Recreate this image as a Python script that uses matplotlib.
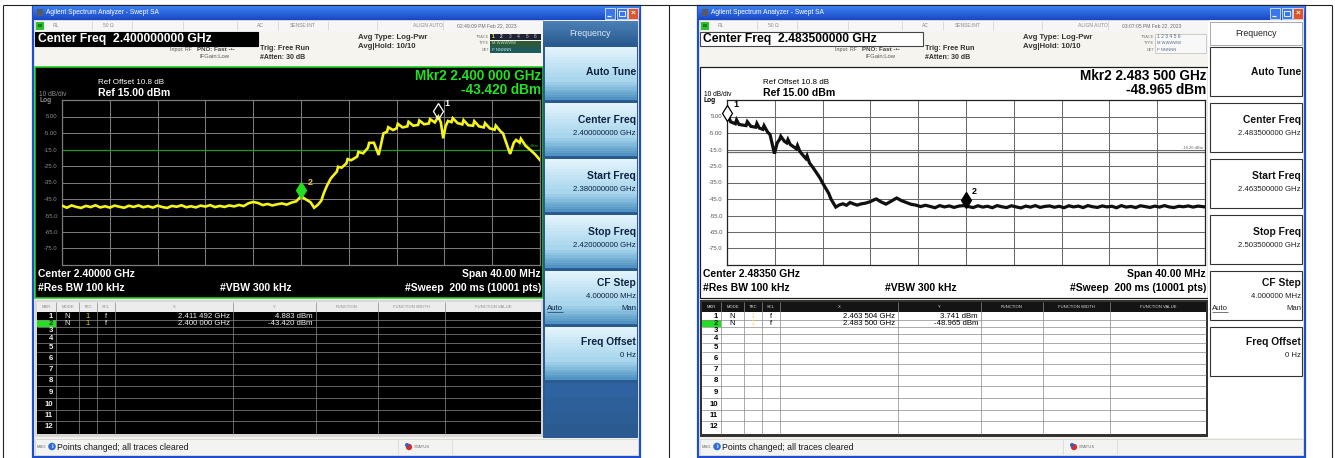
import matplotlib
matplotlib.use('Agg')
import matplotlib.pyplot as plt
from matplotlib.patches import Rectangle, Circle
from matplotlib import transforms
from matplotlib.colors import to_rgb
import numpy as np

plt.rcParams['font.family'] = ['Liberation Sans', 'DejaVu Sans']

W, H = 1335, 458

# ---------------- data ----------------
ref_level_dbm = 15.0
bottom_level_dbm = -85.0
span_mhz = 40.0
ref_offset_db = 10.8
level_tick_values = [5, -5, -15, -25, -35, -45, -55, -65, -75]
level_tick_labels = ['5.00', '-5.00', '-15.0', '-25.0', '-35.0', '-45.0', '-55.0', '-65.0', '-75.0']

left_center_ghz = 2.400
left_start_ghz = 2.380
left_stop_ghz = 2.420
left_timestamp = '02:49:09 PM Feb 22, 2023'
left_freq_ghz = [
    2.3800, 2.3804, 2.3808, 2.3812, 2.3816, 2.3820, 2.3824, 2.3828, 2.3832, 2.3836,
    2.3840, 2.3844, 2.3848, 2.3852, 2.3856, 2.3860, 2.3864, 2.3868, 2.3872, 2.3876,
    2.3880, 2.3884, 2.3888, 2.3892, 2.3896, 2.3900, 2.3904, 2.3908, 2.3912, 2.3916,
    2.3920, 2.3924, 2.3928, 2.3932, 2.3936, 2.3940, 2.3944, 2.3948, 2.3952, 2.3956,
    2.3960, 2.3964, 2.3968, 2.3972, 2.3976, 2.3980, 2.3984, 2.3988, 2.3992, 2.3996,
    2.4000, 2.4004, 2.4008, 2.4011, 2.4014, 2.4017, 2.4019, 2.4022, 2.4025, 2.4028,
    2.4030, 2.4031, 2.4034, 2.4038, 2.4039, 2.4042, 2.4047, 2.4048, 2.4052, 2.4056,
    2.4057, 2.4061, 2.4065, 2.4069, 2.4072, 2.4073, 2.4077, 2.4080, 2.4081, 2.4085,
    2.4089, 2.4090, 2.4094, 2.4098, 2.4099, 2.4103, 2.4107, 2.4108, 2.4112, 2.41149,
    2.4117, 2.4119, 2.4121, 2.4123, 2.4126, 2.4127, 2.4131, 2.4135, 2.4136, 2.4140,
    2.4144, 2.4145, 2.4149, 2.4153, 2.4154, 2.4158, 2.4162, 2.4163, 2.4167, 2.4169,
    2.4175, 2.4178, 2.4180, 2.4183, 2.4184, 2.4188, 2.4192, 2.4196, 2.4200]
left_level_dbm = [
    -49.0, -50.3, -48.9, -49.8, -50.4, -49.2, -49.9, -48.8, -50.1, -49.4,
    -50.2, -49.0, -49.7, -50.3, -49.1, -49.8, -48.9, -50.0, -49.3, -50.2,
    -49.0, -49.9, -50.4, -49.2, -49.7, -48.8, -50.0, -49.4, -50.1, -49.0,
    -49.6, -48.7, -49.9, -49.2, -49.8, -48.9, -49.5, -48.6, -49.3, -47.6,
    -46.8, -47.4, -48.7, -48.0, -48.9, -48.2, -47.7, -48.4, -47.2, -46.4,
    -43.4, -45.2, -47.0, -50.3, -48.6, -46.0, -41.6, -36.5, -32.5, -30.0,
    -28.4, -25.5, -26.0, -23.4, -20.8, -21.5, -19.3, -16.5, -17.3, -14.0,
    -11.0, -10.9, -18.3, -5.2, -4.2, -1.5, -3.2, -2.2, 0.6, -1.6,
    -1.0, 1.8, -0.6, -0.1, 2.6, 0.3, 0.8, 3.4, 1.4, 4.883,
    1.5, -8.2, -1.0, 2.3, 1.6, 4.0, 1.0, 0.2, 2.8, -0.3,
    -0.6, 2.2, -1.0, -1.6, 1.0, -2.2, -3.0, -0.5, -4.0, -5.2,
    -17.7, -11.0, -9.2, -10.8, -8.5, -12.8, -15.3, -18.0, -21.4]
left_marker_freq_ghz = [2.411492, 2.400000]
left_marker_level_dbm = [4.883, -43.420]
left_display_line_dbm = -15.12

right_center_ghz = 2.4835
right_start_ghz = 2.4635
right_stop_ghz = 2.5035
right_timestamp = '03:07:05 PM Feb 22, 2023'
right_freq_ghz = [
    2.4635, 2.4637, 2.4638, 2.4640, 2.4642, 2.4643, 2.4645, 2.4648, 2.4651, 2.4652,
    2.4655, 2.4659, 2.4660, 2.4662, 2.4665, 2.4666, 2.4669, 2.4671, 2.46747, 2.4677,
    2.4679, 2.4680, 2.4683, 2.4685, 2.4686, 2.4688, 2.4690, 2.4693, 2.4694, 2.4696,
    2.4698, 2.4701, 2.4702, 2.4704, 2.4707, 2.4710, 2.4713, 2.4715, 2.4718, 2.4720,
    2.4722, 2.4724, 2.4726, 2.4729, 2.4732, 2.4735, 2.4738, 2.4741, 2.4744, 2.4747,
    2.4751, 2.4755, 2.4758, 2.4760, 2.4764, 2.4768, 2.4772, 2.4775, 2.4777, 2.4781,
    2.4785, 2.4789, 2.4793, 2.4797, 2.4801, 2.4805, 2.4809, 2.4813, 2.4817, 2.4821,
    2.4825, 2.4829, 2.4833, 2.4837, 2.4841, 2.4845, 2.4849, 2.4853, 2.4857, 2.4861,
    2.4865, 2.4869, 2.4873, 2.4877, 2.4881, 2.4885, 2.4889, 2.4893, 2.4897, 2.4901,
    2.4905, 2.4909, 2.4913, 2.4917, 2.4921, 2.4925, 2.4929, 2.4933, 2.4937, 2.4941,
    2.4945, 2.4949, 2.4953, 2.4957, 2.4961, 2.4965, 2.4969, 2.4973, 2.4977, 2.4981,
    2.4985, 2.4989, 2.4993, 2.4997, 2.5001, 2.5005, 2.5009, 2.5013, 2.5017, 2.5021,
    2.5025, 2.5029, 2.5033, 2.5035]
right_level_dbm = [
    3.2, 3.741, 1.8, 1.2, 0.6, 2.9, 0.2, -0.2, -0.5, 1.8,
    -1.0, -1.5, 0.8, -2.0, -2.8, -0.6, -4.5, -5.9, -17.5, -11.0,
    -8.9, -7.0, -10.0, -11.0, -9.0, -12.0, -13.0, -14.6, -12.6, -16.2,
    -18.0, -20.5, -18.8, -23.1, -26.0, -29.2, -32.5, -35.3, -39.0, -41.4,
    -45.0, -47.5, -49.9, -48.6, -47.9, -48.8, -47.1, -48.0, -48.7, -48.0,
    -47.5, -46.6, -45.5, -45.0, -46.8, -48.1, -46.5, -45.2, -44.4, -46.0,
    -47.1, -48.2, -48.7, -49.6, -48.8, -49.5, -50.3, -49.0, -49.8, -49.2,
    -50.1, -49.3, -49.0, -49.6, -50.2, -49.1, -49.9, -49.4, -50.3, -49.0,
    -49.7, -50.2, -49.1, -49.8, -50.4, -49.3, -49.9, -49.0, -50.1, -49.5,
    -49.2, -50.0, -49.4, -50.3, -49.1, -49.8, -49.3, -50.2, -49.0, -49.7,
    -50.1, -49.2, -49.8, -49.4, -50.3, -49.0, -49.9, -49.5, -50.2, -49.1,
    -49.6, -50.1, -49.3, -49.9, -49.0, -49.8, -50.2, -49.4, -49.7, -49.2,
    -49.9, -49.3, -49.6, -49.8]
right_marker_freq_ghz = [2.463504, 2.483500]
right_marker_level_dbm = [3.741, -48.965]
right_display_line_dbm = -16.26

table_columns = ['MKR', 'MODE', 'TRC', 'SCL', 'X', 'Y', 'FUNCTION', 'FUNCTION WIDTH', 'FUNCTION VALUE']
table_row_labels = ['1', '2', '3', '4', '5', '6', '7', '8', '9', '10', '11', '12']
menu_titles = ['Auto Tune', 'Center Freq', 'Start Freq', 'Stop Freq', 'CF Step', 'Freq Offset']
cf_step_text = '4.000000 MHz'
freq_offset_text = '0 Hz'
status_message = 'Points changed; all traces cleared'
window_title = 'Agilent Spectrum Analyzer - Swept SA'

assert len(left_freq_ghz) == len(left_level_dbm)
assert len(right_freq_ghz) == len(right_level_dbm)

# ---------------- figure ----------------
fig = plt.figure(figsize=(W / 100, H / 100), dpi=100)
fig.patch.set_facecolor('white')
ov = fig.add_axes([0, 0, 1, 1], zorder=0)
ov.set_xlim(0, W)
ov.set_ylim(H, 0)
ov.axis('off')

PX = 0.72  # points per pixel


def R(x0, y0, x1, y1, fc, ec='none', lw=0.0, z=1):
    ov.add_patch(Rectangle((x0, y0), x1 - x0, y1 - y0, facecolor=fc, edgecolor=ec,
                           linewidth=lw, zorder=z))


def G(x0, y0, x1, y1, ctop, cbot, n=14, z=1):
    a, b = np.array(to_rgb(ctop)), np.array(to_rgb(cbot))
    h = (y1 - y0) / n
    for i in range(n):
        c = a + (b - a) * (i / max(n - 1, 1))
        R(x0, y0 + i * h, x1, y0 + (i + 1) * h + 0.3, tuple(c), z=z)


def T(x, y, s, size, color='black', weight='normal', ha='left', va='center', z=5):
    ov.text(x, y, s, fontsize=size, color=color, fontweight=weight, ha=ha, va=va, zorder=z)


def L(xs, ys, color, lw=1.0, z=3):
    ov.plot(xs, ys, color=color, lw=lw * PX, zorder=z, solid_capstyle='butt')


def fmt_ghz(f):
    s = f"{f:.6f}"
    return s[:5] + ' ' + s[5:] + ' GHz'


# outer page table lines
L([3, 3], [5, 458], '#222', 1.1)
L([669, 669], [5, 458], '#222', 1.1)
L([1332, 1332], [5, 458], '#222', 1.1)
L([3, 1332], [5, 5], '#222', 1.1)

LEFT_THEME = dict(
    graph_bg='black', graph_ec='#1ed31e', graph_lw=1.6, grid='#7a7a7a', tick='#8c8c8c',
    text='white', mkr='#22e022', trace='#f4f41c', trace_lw=1.9, disp='#1e9a1e',
    mk1_fc='none', mk1_ec='white', mk2_fc='#22dd22', mk2_ec='#22dd22', mk_lab1='white',
    mk_lab2='#e6c440', tbl_bg='black', tbl_fg='#f0f0f0', tbl_hdr_bg='#ececec',
    tbl_hdr_fg='#8a8a8a', tbl_line='#8a8a8a', tbl_frame='#d8d8d8', trc='#e8d400',
    cf_bg='black', cf_fg='white', cf_ec='black', menu='blue', divfont='#8c8c8c')
RIGHT_THEME = dict(
    graph_bg='white', graph_ec='#1a1a1a', graph_lw=1.2, grid='#6a6a6a', tick='#555555',
    text='black', mkr='black', trace='#101010', trace_lw=2.3, disp='#6a6a6a',
    mk1_fc='white', mk1_ec='black', mk2_fc='black', mk2_ec='black', mk_lab1='black',
    mk_lab2='black', tbl_bg='white', tbl_fg='black', tbl_hdr_bg='#141414',
    tbl_hdr_fg='#e0e0e0', tbl_line='#8a8a8a', tbl_frame='#333333', trc='#eee070',
    cf_bg='white', cf_fg='black', cf_ec='#444', menu='white', divfont='black')


def draw_panel(dx, th, center, start, stop, freqs, levels, mk_f, mk_v, disp, stamp):
    X = lambda x: x + dx
    # window body
    R(X(33), 6, X(640), 457, '#f2f0e8', ec='#1d4ed0', lw=1.6, z=0.5)
    # title bar
    G(X(33), 6, X(640), 20, '#3c80f2', '#1848c4', z=1)
    R(X(37), 9, X(43), 16, '#555a66', z=2)
    T(X(46), 13, window_title, 4.8, 'white', z=5)
    R(X(605), 8, X(615), 18.5, '#3a78ea', ec='white', lw=0.5, z=2)
    L([X(607), X(611)], [16, 16], 'white', 1.2, z=3)
    R(X(617), 8, X(627), 18.5, '#3a78ea', ec='white', lw=0.5, z=2)
    R(X(619), 10.5, X(625), 16, 'none', ec='white', lw=0.6, z=3)
    R(X(628), 8, X(638), 18.5, '#e0542a', ec='white', lw=0.5, z=2)
    T(X(633), 13.3, '×', 6, 'white', 'bold', ha='center', z=4)

    # status row
    R(X(35), 20, X(543), 31, '#f6f6f6', ec='#c9c9c9', lw=0.5, z=1)
    R(X(36), 22, X(44), 29.5, '#2cc02c', z=2)
    T(X(40), 25.8, 'LXI', 2.3, '#0a300a', 'bold', ha='center')
    for sx in [92, 132, 183, 237, 278, 328, 377, 443]:
        L([X(sx), X(sx)], [21, 30], '#c8c8c8', 0.6, z=2)
    st_col = '#8a8a8a'
    T(X(53), 25.7, 'RL', 3.6, st_col)
    T(X(103), 25.7, '50 Ω', 3.6, st_col)
    T(X(257), 25.7, 'AC', 3.6, st_col)
    T(X(290), 25.7, 'SENSE:INT', 3.6, st_col)
    T(X(413), 25.7, 'ALIGN AUTO', 3.6, st_col)
    T(X(457), 25.7, stamp, 3.6, '#6a6a6a')

    # header
    R(X(35), 31, X(543), 66, '#f6f4ee', z=1)
    R(X(35), 31.5, X(258), 46, th['cf_bg'], ec=th['cf_ec'], lw=0.8, z=2)
    T(X(38), 39.0, f"Center Freq  {center:.9f} GHz", 8.7, th['cf_fg'], 'bold')
    T(X(170), 49.5, 'Input: RF', 3.8, '#555')
    T(X(197), 49.3, 'PNO: Fast -•-', 4.4, '#444', 'bold')
    T(X(200), 56.8, 'IFGain:Low', 4.2, '#555')
    T(X(260), 48.5, 'Trig: Free Run', 5.2, '#333', 'bold')
    T(X(260), 57.5, '#Atten: 30 dB', 5.0, '#333', 'bold')
    T(X(358), 37.5, 'Avg Type: Log-Pwr', 5.6, '#333', 'bold')
    T(X(358), 46, 'Avg|Hold: 10/10', 5.6, '#333', 'bold')
    for lab, yy in [('TRACE', 37), ('TYPE', 43.5), ('DET', 50)]:
        T(X(489), yy, lab, 2.8, '#777', ha='right')
    if th['menu'] == 'blue':
        R(X(490), 34, X(541), 40, '#202233', z=2)
        R(X(490), 40.5, X(541), 46.5, '#2f5a3a', z=2)
        R(X(490), 47, X(541), 53, '#1f5a5a', z=2)
        tcol = ['#ffe640', '#c8c8ff', '#9090a0', '#9090a0', '#9090a0', '#9090a0']
        for k in range(6):
            T(X(493 + k * 8.5), 37, str(k + 1), 3.6, tcol[k], 'bold', ha='center')
        T(X(492), 43.5, 'M WWWWW', 3.0, '#bfe8c8')
        T(X(492), 50, 'P NNNNN', 3.0, '#bfe8e8')
    else:
        R(X(490), 34, X(541), 53, '#f8f8f8', ec='#bbb', lw=0.5, z=2)
        T(X(492), 37, '1 2 3 4 5 6', 3.6, '#5a6a8a')
        T(X(492), 43.5, 'M WWWWW', 3.0, '#5a6a8a')
        T(X(492), 50, 'P NNNNN', 3.0, '#5a6a8a')

    # graph frame
    R(X(35), 67, X(543), 298, th['graph_bg'], ec=th['graph_ec'], lw=th['graph_lw'] * PX, z=1)
    T(X(98), 83, f"Ref Offset {ref_offset_db:.1f} dB", 5.8, th['text'])
    T(X(98), 93, f"Ref {ref_level_dbm:.2f} dBm", 7.6, th['text'], 'bold')
    T(X(39), 94, '10 dB/div', 4.8, th['divfont'])
    T(X(39), 100.5, 'Log', 4.8, th['divfont'], 'bold')
    mkr_f, mkr_v = mk_f[1], mk_v[1]
    T(X(541), 76.5, 'Mkr2 ' + fmt_ghz(mkr_f), 9.8, th['mkr'], 'bold', ha='right')
    T(X(541), 90.5, f"{mkr_v:.3f} dBm", 9.8, th['mkr'], 'bold', ha='right')
    T(X(38), 274, f"Center {center:.5f} GHz", 7.5, th['text'], 'bold')
    T(X(541), 274, f"Span {span_mhz:.2f} MHz", 7.5, th['text'], 'bold', ha='right')
    T(X(38), 288, '#Res BW 100 kHz', 7.5, th['text'], 'bold')
    T(X(220), 288, '#VBW 300 kHz', 7.5, th['text'], 'bold')
    T(X(541), 288, '#Sweep  200 ms (10001 pts)', 7.5, th['text'], 'bold', ha='right')

    # trace axes
    ax = fig.add_axes([X(62) / W, 1 - 265 / H, 478 / W, 165 / H], zorder=2)
    ax.set_facecolor(th['graph_bg'])
    ax.set_xlim(start, stop)
    ax.set_ylim(bottom_level_dbm, ref_level_dbm)
    ax.set_xticks(np.linspace(start, stop, 11))
    ax.set_xticklabels([])
    ax.set_yticks(level_tick_values)
    ax.set_yticklabels(level_tick_labels)
    ax.tick_params(length=0, labelsize=4.3, labelcolor=th['tick'], pad=3)
    ax.grid(True, color=th['grid'], lw=0.75)
    for sp in ax.spines.values():
        sp.set_color(th['grid'] if th['menu'] == 'blue' else '#222')
        sp.set_linewidth(0.9)
    ax.axhline(disp, color=th['disp'], lw=0.9, zorder=2.5)
    ax.text(0.997, disp + 0.8, f"{disp:.2f} dBm", fontsize=3.0, color=th['disp'], ha='right',
            va='bottom', transform=transforms.blended_transform_factory(ax.transAxes, ax.transData),
            zorder=2.6)
    ax.plot(freqs, levels, color=th['trace'], lw=th['trace_lw'], zorder=3, solid_joinstyle='miter')
    up = transforms.offset_copy(ax.transData, fig=fig, x=0, y=6, units='dots')
    ax.plot([mk_f[0]], [mk_v[0]], marker='d', ms=8.5, mfc=th['mk1_fc'], mec=th['mk1_ec'],
            mew=0.9, transform=up, zorder=5, clip_on=False)
    ax.plot([mk_f[1]], [mk_v[1]], marker='d', ms=8.5, mfc=th['mk2_fc'], mec=th['mk2_ec'],
            mew=0.9, transform=up, zorder=5, clip_on=False)
    ax.annotate('1', (mk_f[0], mk_v[0]), xytext=(4.5, 8), textcoords='offset points',
                fontsize=6.5, color=th['mk_lab1'], fontweight='bold', annotation_clip=False,
                zorder=6)
    ax.annotate('2', (mk_f[1], mk_v[1]), xytext=(4.5, 8), textcoords='offset points',
                fontsize=6.5, color=th['mk_lab2'], fontweight='bold', annotation_clip=False,
                zorder=6)

    # marker table
    cols = [37, 56, 79, 97, 115, 233, 316, 378, 445, 541]
    rows = [312, 320, 327, 334, 343, 352, 364, 375, 386, 398, 410, 421, 433]
    R(X(35), 300, X(543), 437, th['tbl_frame'], z=1)
    R(X(37), 302, X(541), 312, th['tbl_hdr_bg'], z=2)
    R(X(37), 312, X(541), 434, th['tbl_bg'], z=2)
    for ci, name in enumerate(table_columns):
        T(X((cols[ci] + cols[ci + 1]) / 2), 307.3, name, 3.0, th['tbl_hdr_fg'], ha='center', z=6)
    for c in cols[1:-1]:
        L([X(c), X(c)], [302, 434], th['tbl_line'], 0.7, z=3)
    for r in rows[1:-1]:
        L([X(37), X(541)], [r, r], th['tbl_line'], 0.7, z=3)
    R(X(37), rows[1], X(56), rows[2], '#22dd22', z=2.5)
    for i, lab in enumerate(table_row_labels):
        yc = (rows[i] + rows[i + 1]) / 2
        T(X(53), yc, lab, 5.6, th['tbl_fg'] if i != 1 else '#0a300a', 'bold', ha='right', z=6)
    for i in range(2):
        yc = (rows[i] + rows[i + 1]) / 2
        T(X(67.5), yc, 'N', 5.4, th['tbl_fg'], ha='center', z=6)
        T(X(88), yc, '1', 5.4, th['trc'], ha='center', z=6)
        T(X(106), yc, 'f', 5.4, th['tbl_fg'], ha='center', z=6)
        T(X(230), yc, fmt_ghz(mk_f[i]), 5.6, th['tbl_fg'], ha='right', z=6)
        T(X(313), yc, f"{mk_v[i]:.3f} dBm", 5.6, th['tbl_fg'], ha='right', z=6)

    # status bar
    R(X(35), 439, X(638), 455, '#f3f3f1', ec='#d0d0d0', lw=0.5, z=1)
    T(X(37), 447, 'MSG', 3.0, '#666')
    ov.add_patch(Circle((X(52), 446.5), 3.8, facecolor='#2f6fd6', edgecolor='none', zorder=3))
    T(X(52), 446.5, 'i', 4.2, 'white', 'bold', ha='center', z=4)
    T(X(57), 447, status_message, 6.3, '#1a1a1a')
    L([X(398), X(398)], [440, 454], '#cfcfcf', 0.6, z=2)
    L([X(452), X(452)], [440, 454], '#cfcfcf', 0.6, z=2)
    ov.add_patch(Circle((X(409), 447), 3.2, facecolor='#d03030', edgecolor='none', zorder=3))
    ov.add_patch(Circle((X(407), 445), 2.0, facecolor='#3060c0', edgecolor='none', zorder=3))
    T(X(414), 447, 'STATUS', 3.0, '#666')

    # soft-key menu
    btns = [(47, 100), (103, 156), (159, 212), (215, 268), (271, 324), (327, 380)]
    values = [None, f"{center:.9f} GHz", f"{start:.9f} GHz", f"{stop:.9f} GHz",
              cf_step_text, freq_offset_text]
    if th['menu'] == 'blue':
        R(X(543), 21, X(638), 438, '#2a5a8e', z=1)
        G(X(543), 21, X(638), 45, '#4a7fb5', '#2a5b90', z=1.2)
        T(X(590), 33, 'Frequency', 6.3, '#dbe8f6', ha='center')
        for (b0, b1) in btns:
            G(X(545), b0, X(637), b0 + (b1 - b0) * 0.62, '#e2f3fb', '#a9d6ec', n=10, z=1.5)
            G(X(545), b0 + (b1 - b0) * 0.62, X(637), b1, '#a9d6ec', '#4f94c4', n=8, z=1.5)
        G(X(545), 383, X(637), 438, '#2f62a0', '#2a5a90', n=4, z=1.5)
        tc, vc = '#0d2240', '#0d2240'
    else:
        R(X(543), 21, X(638), 438, 'white', z=1)
        R(X(545), 22, X(637), 45, 'white', ec='#9a9a9a', lw=0.6, z=1.5)
        T(X(591), 33, 'Frequency', 6.3, '#222', ha='center')
        for (b0, b1) in btns:
            R(X(545), b0, X(637), b1 - 4, 'white', ec='#333', lw=0.8, z=1.5)
        tc, vc = '#111', '#222'
    for k, ((b0, b1), title) in enumerate(zip(btns, menu_titles)):
        if values[k] is None:
            T(X(636), b0 + 25, title, 7.4, tc, 'bold', ha='right')
        elif title == 'CF Step':
            T(X(636), b0 + 12, title, 7.4, tc, 'bold', ha='right')
            T(X(636), b0 + 25, values[k], 5.6, vc, ha='right')
            T(X(547), b0 + 37, 'Auto', 5.6, vc)
            L([X(547), X(563)], [b0 + 40.5, b0 + 40.5], vc, 0.6, z=5)
            T(X(636), b0 + 37, 'Man', 5.6, vc, ha='right')
        else:
            off = 15 if title == 'Freq Offset' else 17
            T(X(636), b0 + off, title, 7.4, tc, 'bold', ha='right')
            T(X(636), b0 + off + 13.5, values[k], 5.6, vc, ha='right')
    return ax


draw_panel(0, LEFT_THEME, left_center_ghz, left_start_ghz, left_stop_ghz,
           left_freq_ghz, left_level_dbm, left_marker_freq_ghz, left_marker_level_dbm,
           left_display_line_dbm, left_timestamp)
draw_panel(665, RIGHT_THEME, right_center_ghz, right_start_ghz, right_stop_ghz,
           right_freq_ghz, right_level_dbm, right_marker_freq_ghz, right_marker_level_dbm,
           right_display_line_dbm, right_timestamp)

fig.savefig('out.png', dpi=100, facecolor='white')
